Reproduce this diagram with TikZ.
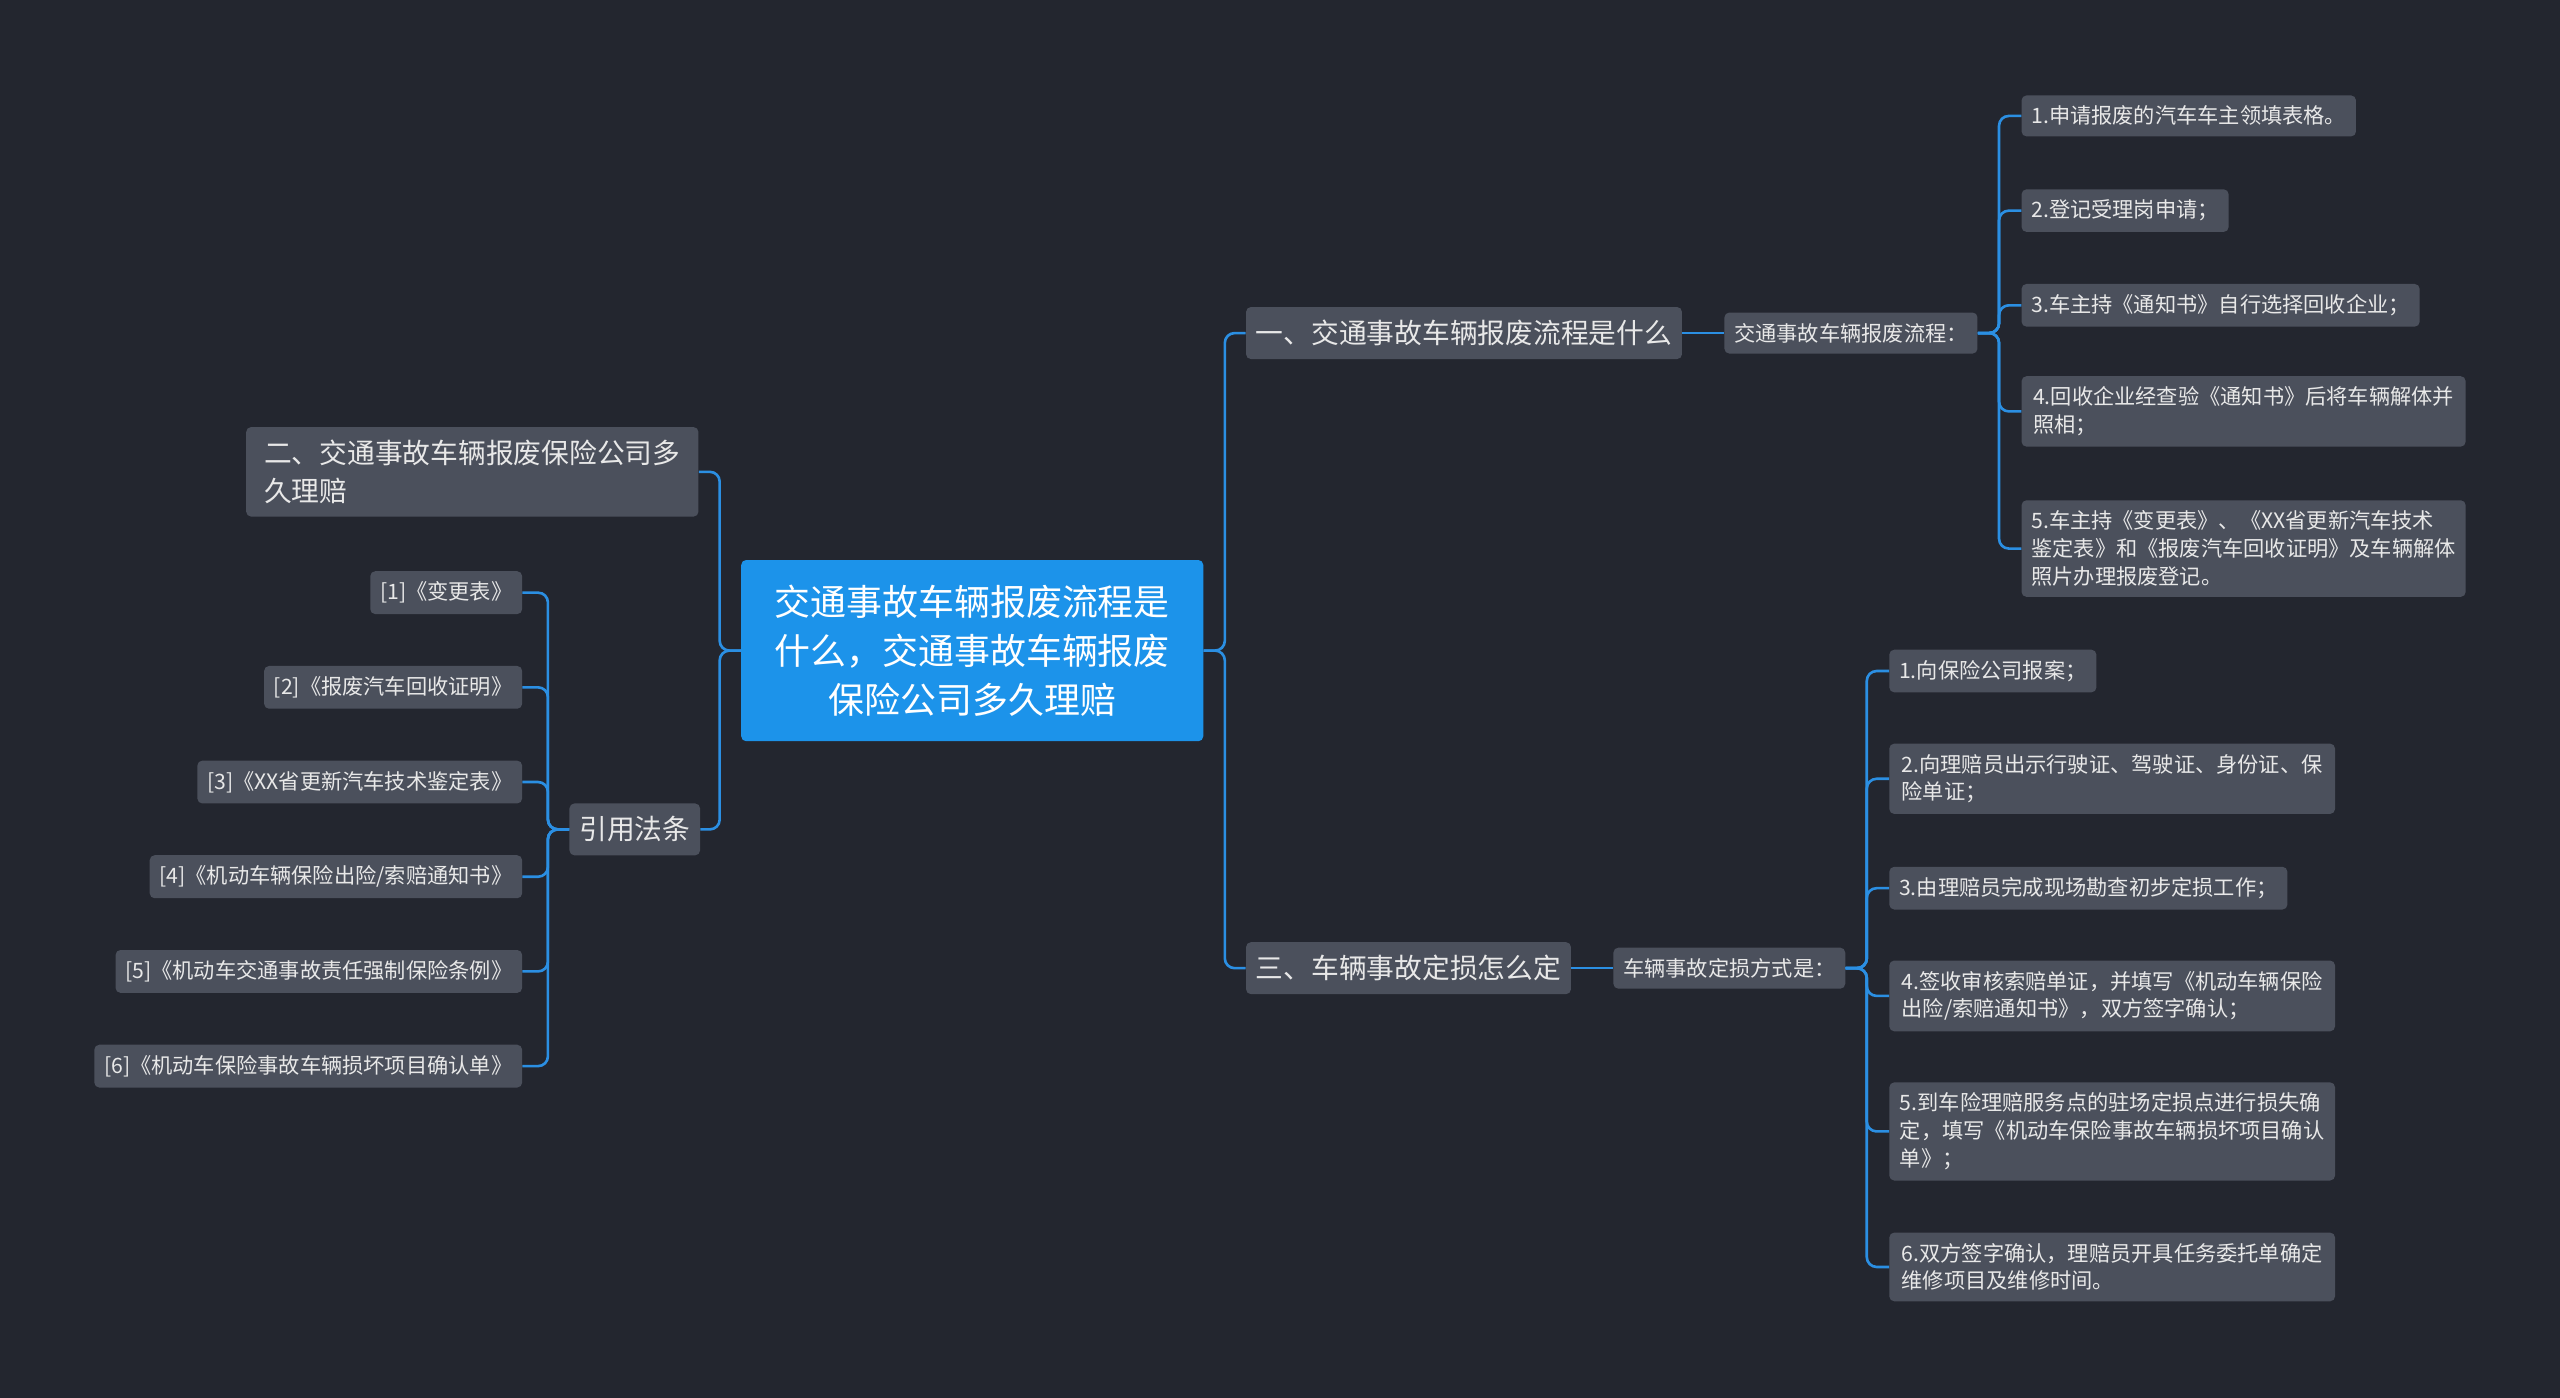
\documentclass[tikz,border=0pt]{standalone}
\usepackage{fontspec}
\setmainfont{Noto Sans CJK SC}
\definecolor{bg}{HTML}{23262F}
\definecolor{nd}{HTML}{4B505C}
\definecolor{ln}{HTML}{2B8FE3}
\definecolor{ctr}{HTML}{1C93EA}
\definecolor{tx}{HTML}{E8E8E8}
\tikzset{
 base/.style={fill=nd,text=tx,rounded corners=3pt,align=left,inner xsep=6pt,inner ysep=6.5pt},
 leaf/.style={base,font=\fontsize{13}{17}\selectfont},
 br/.style={base,font=\fontsize{17}{23}\selectfont,inner ysep=8pt},
 conn/.style={draw=ln,line width=1.6pt,rounded corners=6pt}
}
\begin{document}
\begin{tikzpicture}[x=1pt,y=-1pt]
\fill[bg] (0,0) rectangle (1568,856);
\useasboundingbox (0,0) rectangle (1568,856);
\node[fill=ctr,text=white,rounded corners=3pt,align=center,font=\fontsize{22}{30}\selectfont,minimum width=283pt,minimum height=111pt] (c) at (595.5,398.5) {交通事故车辆报废流程是\\什么，交通事故车辆报废\\保险公司多久理赔};
% right branch 1
\node[br,anchor=west] (b1) at (763,204) {一、交通事故车辆报废流程是什么};
\node[leaf,anchor=west] (s1) at (1056,204) {交通事故车辆报废流程：};
\node[leaf,anchor=west] (a1) at (1238,71) {1.申请报废的汽车车主领填表格。};
\node[leaf,anchor=west] (a2) at (1238,129) {2.登记受理岗申请；};
\node[leaf,anchor=west] (a3) at (1238,187) {3.车主持《通知书》自行选择回收企业；};
\node[leaf,anchor=west,minimum width=272pt] (a4) at (1238,252) {4.回收企业经查验《通知书》后将车辆解体并\\照相；};
\node[leaf,anchor=west,minimum width=272pt] (a5) at (1238,336) {5.车主持《变更表》、《XX省更新汽车技术\\鉴定表》和《报废汽车回收证明》及车辆解体\\照片办理报废登记。};
% right branch 3
\node[br,anchor=west] (b3) at (763,593) {三、车辆事故定损怎么定};
\node[leaf,anchor=west] (s3) at (988,593) {车辆事故定损方式是：};
\node[leaf,anchor=west] (d1) at (1157,411) {1.向保险公司报案；};
\node[leaf,anchor=west,minimum width=273pt] (d2) at (1157,477) {2.向理赔员出示行驶证、驾驶证、身份证、保\\险单证；};
\node[leaf,anchor=west] (d3) at (1157,544) {3.由理赔员完成现场勘查初步定损工作；};
\node[leaf,anchor=west,minimum width=273pt] (d4) at (1157,610) {4.签收审核索赔单证，并填写《机动车辆保险\\出险/索赔通知书》，双方签字确认；};
\node[leaf,anchor=west,minimum width=273pt] (d5) at (1157,693) {5.到车险理赔服务点的驻场定损点进行损失确\\定，填写《机动车保险事故车辆损坏项目确认\\单》；};
\node[leaf,anchor=west,minimum width=273pt] (d6) at (1157,776) {6.双方签字确认，理赔员开具任务委托单确定\\维修项目及维修时间。};
% left
\node[br,anchor=east,minimum width=277pt] (b2) at (428,289) {二、交通事故车辆报废保险公司多\\久理赔};
\node[br,anchor=east] (b4) at (429,508) {引用法条};
\node[leaf,anchor=east] (l1) at (320,363) {[1]《变更表》};
\node[leaf,anchor=east] (l2) at (320,421) {[2]《报废汽车回收证明》};
\node[leaf,anchor=east] (l3) at (320,479) {[3]《XX省更新汽车技术鉴定表》};
\node[leaf,anchor=east] (l4) at (320,537) {[4]《机动车辆保险出险/索赔通知书》};
\node[leaf,anchor=east] (l5) at (320,595) {[5]《机动车交通事故责任强制保险条例》};
\node[leaf,anchor=east] (l6) at (320,653) {[6]《机动车保险事故车辆损坏项目确认单》};
% connectors
\foreach \t in {b1,b3} \draw[conn] (c.east) -- ++(13,0) |- (\t.west);
\foreach \t in {b2,b4} \draw[conn] (c.west) -- ++(-13,0) |- (\t.east);
\draw[conn] (b1.east) -- (s1.west);
\draw[conn] (b3.east) -- (s3.west);
\foreach \t in {a1,a2,a3,a4,a5} \draw[conn] (s1.east) -- ++(13,0) |- (\t.west);
\foreach \t in {d1,d2,d3,d4,d5,d6} \draw[conn] (s3.east) -- ++(13,0) |- (\t.west);
\foreach \t in {l1,l2,l3,l4,l5,l6} \draw[conn] (b4.west) -- ++(-13,0) |- (\t.east);
\end{tikzpicture}
\end{document}
